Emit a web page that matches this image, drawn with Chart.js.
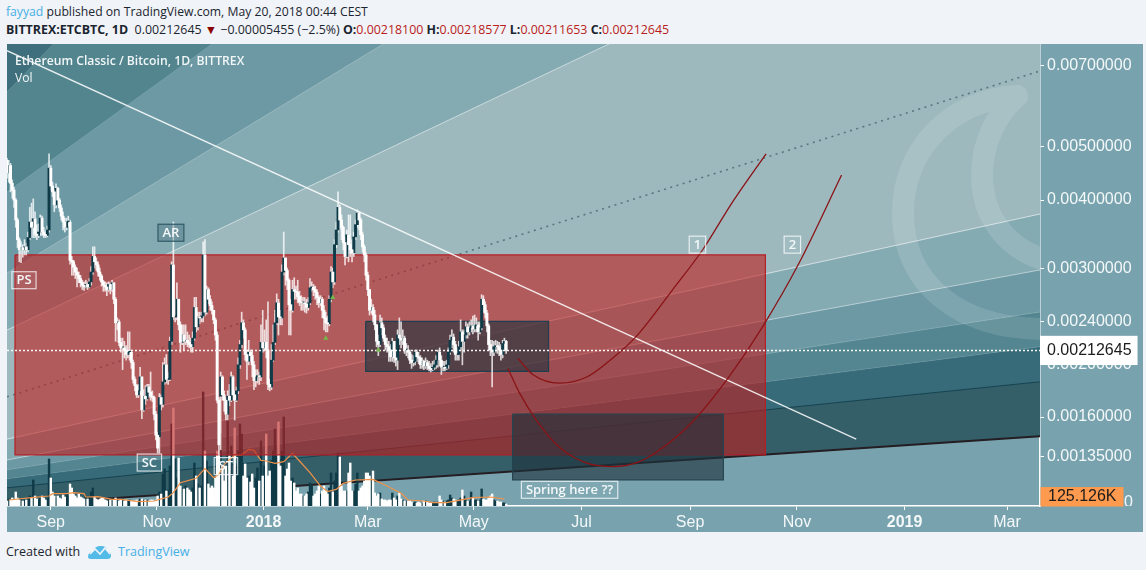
<!DOCTYPE html>
<html><head><meta charset="utf-8">
<script src="https://cdn.jsdelivr.net/npm/chart.js@4/dist/chart.umd.min.js"></script>
<style>
html,body{margin:0;padding:0;width:1146px;height:570px;overflow:hidden;background:#f0f3f7;font-family:"Open Sans",sans-serif;color:#1b2530}
#wrap{position:absolute;left:7px;top:44px;width:1136px;height:488px;background:#78a3ae}
canvas{display:block}
.t{position:absolute;white-space:pre;font-size:12.2px;line-height:18px}
b{font-weight:700}.blue{color:#45b0e6}.red{color:#b91c1c}
</style></head><body>
<div class="t" style="left:6px;top:3px"><span class="blue">fayyad</span> published on TradingView.com, May 20, 2018 00:44 CEST</div>
<div class="t" style="left:6px;top:21px;font-size:12.4px"><b>BITTREX:ETCBTC, 1D</b>  0.00212645 <span style="color:#8b0000">▼</span> −0.00005455 (−2.5%) <b>O:</b><span class="red">0.00218100</span> <b>H:</b><span class="red">0.00218577</span> <b>L:</b><span class="red">0.00211653</span> <b>C:</b><span class="red">0.00212645</span></div>
<div id="wrap"><canvas id="c" width="1136" height="488"></canvas></div>
<div class="t" style="left:15px;top:52px;color:#f1f6f7;font-weight:600">Ethereum Classic / Bitcoin, 1D, BITTREX</div>
<div class="t" style="left:15px;top:69px;color:#f1f6f7">Vol</div>
<div class="t" style="left:6px;top:543px;font-size:12.5px">Created with</div>
<svg style="position:absolute;left:87px;top:543px" width="25" height="17" viewBox="0 0 25 17"><path d="M1 14 Q1 9 6 9 Q8 2 14 3 Q20 3 20 8 Q24 9 24 13 Q24 16 20 16 L5 16 Q1 16 1 14Z" fill="#54bbe8"/><path d="M3 11 L8 6 L13 11 L18 5 L23 11" fill="none" stroke="#f0f3f7" stroke-width="1.6"/></svg>
<div class="t blue" style="left:118px;top:543px;font-size:12.5px">TradingView</div>
<script>
// all prices in the arrays below are in units of 0.00001 BTC
const priceUnit = 1e-5;
const closePrice = [
448,462,429,417,400,368,339,325,328,325,
329,325,342,365,357,370,347,345,350,371,
350,346,345,353,457,424,414,392,420,400,
387,374,365,357,365,365,311,309,302,296,
292,288,283,280,278,281,278,284,296,316,
309,305,296,291,284,280,278,275,281,275,
283,264,239,240,220,215,215,213,209,211,
211,202,188,183,176,179,190,165,175,173,
182,178,175,174,162,148,140,174,169,186,
200,188,188,221,305,245,245,264,237,220,
227,221,222,220,218,216,224,255,235,245,
244,246,318,250,275,264,257,252,242,227,
172,142,190,176,172,162,175,172,190,176,
172,179,200,218,239,232,209,203,211,208,
200,187,190,191,190,220,215,220,213,184,
182,204,220,239,260,245,244,296,314,298,
286,258,252,275,273,272,267,261,260,260,
259,255,260,277,278,275,272,266,260,264,
252,244,239,238,264,296,284,332,353,388,
368,357,335,316,346,332,325,321,343,361,
379,368,346,329,318,292,275,252,255,247,
237,221,218,239,234,224,218,216,213,207,
221,206,204,227,224,222,224,213,213,211,
204,202,203,211,207,206,200,203,199,202,
199,197,196,198,200,204,211,204,198,198,
197,200,211,222,225,218,209,209,216,230,
221,227,235,230,234,236,233,236,237,230,
234,264,258,249,236,218,213,211,216,217,
216,213,209,219,221,212.645];
const highPrice = [
476,472,466,435,422,403,371,342,336,332,
339,334,350,388,395,402,381,361,362,376,
374,357,353,359,485,462,431,417,428,422,
403,392,381,371,371,374,368,316,311,305,
301,296,292,286,284,286,284,288,303,329,
329,314,309,301,293,286,284,283,284,283,
286,283,266,244,242,224,224,221,217,230,
230,213,204,190,184,184,198,190,180,183,
184,184,194,179,175,164,150,177,176,202,
206,209,194,225,309,365,264,283,264,240,
237,237,237,230,227,224,230,266,266,250,
250,250,336,339,279,277,268,261,250,244,
230,174,194,191,179,174,179,184,194,191,
179,182,206,222,250,242,234,213,222,213,
213,203,196,196,194,237,252,232,242,261,
188,218,237,252,270,264,252,305,350,314,
301,288,264,286,289,279,286,273,268,266,
266,264,266,288,284,281,279,275,268,268,
266,257,250,246,268,303,301,339,365,414,
392,376,359,342,353,376,376,339,350,368,
384,381,371,350,332,321,296,275,264,258,
252,237,227,247,244,237,227,224,221,218,
224,221,213,232,244,240,232,226,219,217,
213,209,208,213,213,211,208,206,204,206,
204,203,201,203,204,208,213,215,208,203,
203,204,215,227,232,228,221,215,221,242,
232,232,240,238,240,242,246,247,244,240,
240,269,268,261,252,238,222,222,221,222,
221,220,218,222,224,222];
const lowPrice = [
438,431,414,403,388,357,328,309,308,315,
318,318,322,339,342,342,342,339,342,345,
345,342,342,343,350,417,406,381,387,392,
381,368,353,350,353,359,306,292,292,288,
278,283,278,275,274,277,275,277,280,293,
301,298,291,286,279,273,273,268,273,270,
273,259,221,232,217,211,196,206,204,206,
204,197,185,179,174,174,176,159,164,169,
172,174,172,171,158,145,137,137,165,167,
184,185,184,187,218,242,240,242,232,211,
218,213,218,216,215,211,211,222,230,232,
238,240,240,246,248,259,252,248,238,222,
170,134,139,172,164,158,158,168,171,172,
158,171,177,197,215,224,204,188,200,203,
190,180,182,185,184,187,211,213,206,180,
179,180,203,218,237,227,237,237,292,280,
275,227,227,250,264,264,260,257,252,252,
250,249,252,258,273,268,264,258,255,257,
244,232,230,230,236,261,277,281,328,350,
353,339,325,305,314,309,316,309,316,339,
357,353,339,322,309,286,268,247,249,240,
232,216,208,216,227,221,213,211,203,203,
203,202,199,196,218,215,218,210,208,206,
201,197,199,200,203,201,197,197,196,197,
196,195,194,195,196,197,198,199,192,195,
195,196,197,209,215,211,204,204,204,213,
200,211,224,224,227,230,228,230,230,222,
228,232,250,244,230,213,208,182,208,211,
210,208,204,206,213,210];
const openGaps = {0:472, 87:147, 122:175};
// volume in thousands
const volume = [
90,126,108,144,108,252,144,108,126,90,
108,108,144,180,144,468,180,126,108,144,
180,144,108,126,846,504,252,180,144,180,
144,126,198,162,216,180,396,324,216,180,
144,216,162,144,126,180,126,162,252,324,
162,126,108,126,144,144,108,90,126,108,
126,108,144,108,90,108,126,90,108,90,
108,90,90,90,108,90,126,126,108,108,
108,90,108,108,90,108,180,252,216,576,
666,270,288,720,1476,1764,846,504,864,360,
324,306,360,324,288,252,324,774,540,396,
324,360,2052,990,810,396,324,360,324,504,
990,900,1296,720,450,720,1656,900,1080,540,
1404,720,990,1476,1296,540,756,504,540,432,
576,324,504,684,450,1170,540,720,1296,540,
630,810,990,1386,900,1512,720,990,1602,540,
666,774,450,504,414,270,324,216,216,180,
180,216,252,414,360,180,216,270,360,216,
270,360,270,216,324,594,252,450,594,954,
882,360,270,270,270,594,774,270,270,396,
594,270,324,360,450,594,594,540,450,630,
234,180,216,234,126,108,108,90,108,108,
234,144,108,180,234,126,108,90,90,90,
90,72,54,72,54,72,54,54,90,90,
72,54,54,54,72,54,72,180,108,90,
72,90,108,198,144,126,108,90,108,144,
288,180,108,90,90,252,144,108,108,90,
108,306,126,108,108,144,180,216,108,90,
90,72,72,54,54,36];
const volMaDay = [1,14,24,26,34,38,44,45,52,60,65,75,84,87,92,95,99,108,110,113,118,121,124,130,134,138,141,145,148,153,158,163,167,173,179,183,188,192,199,209,217,225,229,238,243,251,258,266,276,284];
const volMa = [108,150,180,222,222,240,222,162,168,120,120,78,90,120,162,240,420,498,570,672,510,570,750,918,918,1020,1002,822,810,768,798,948,810,600,360,258,300,408,468,480,360,228,108,90,60,60,102,150,162,125.126];

const axisDays = [25,85.5,146.5,206,266.5,328,390,451,512.5,571];
const axisNames = ['Sep','Nov','2018','Mar','May','Jul','Sep','Nov','2019','Mar'];
const axisBold = ['2018','2019'];
const priceTicks = [0.007,0.005,0.004,0.003,0.0024,0.002,0.0016,0.00135];
const lastPrice = 0.00212645;
const lastVolMa = 125.126;

const dayMax = 589.8;
// fan boundaries (BTC) at the left and right edge of the plot
const fanAtLeft  = [0.006268,0.004136,0.002948,0.002318,0.001455,0.00133,0.001274,0.001225,0.001178,0.001092];
const fanAtRight = [0.5031,0.08893,0.03952,0.01777,0.003774,0.002986,0.002502,0.00216,0.001861,0.001474];
const fanFill = ['#3f6f7c','#53858f','#6c99a4','#85abb2','#9db9be','#85abb2','#6c99a4','#548691','#376b79','#345e68'];
const fanEdge = ['rgba(255,255,255,.08)','rgba(255,255,255,.1)','rgba(255,255,255,.25)','rgba(255,255,255,.55)','rgba(255,255,255,.6)','rgba(255,255,255,.45)','rgba(255,255,255,.15)','rgba(255,255,255,.1)','#14414e','#241d22'];
const fanWidth = [1,1,1,1,1,1,1,1,1,2];
const fanDotted = [0.001745,0.006837];
const trendDays = [0,484.9];
const trendPrice = [0.007436,0.001455];
const redBoxDays = [4.56,433]; const redBoxPrice = [0.00318,0.00136];
const rangeBoxDays = [204.8,309.2]; const rangeBoxPrice = [0.002404,0.001945];
const springBoxDays = [288.7,409]; const springBoxPrice = [0.00162,0.00122];
const curve1Days = [291.7,300.2,315.5,330.7,345.9,359.2,380.1,397.2,414.3,433.4];
const curve1Price = [205.5,192,185,189.7,206,225.5,275,325,397,485];
const curve2Days = [286,292.6,302.2,315.5,330.7,345.9,361.1,380.1,395.3,412.4,431.4,452.4,476.5];
const curve2Price = [197,177.5,158,140.5,131.3,129.2,132,145,162,190.5,235,308,444];
const markerDays = [182,186,212];
const markerPrice = [224,266,213];
const noteText = ['PS','AR','SC','ST','1','2','Spring here ??'];
const noteDay = [9.7,93.6,81.3,125,394.2,448.4,321.2];
const notePrice = [286,349,131.5,129.5,332,332,116.8];
const noteDark = [false,true,false,false,false,false,false];

const C = 8e-5; // TradingView's log axis is slightly offset
class TVLog extends Chart.LogarithmicScale {
  static id = 'tvlog';
  static defaults = {};
  configure(){ super.configure(); const a=Math.log10(this.min+C); this._startValue=a; this._valueRange=Math.log10(this.max+C)-a; }
  getPixelForValue(v){ if(v===undefined||v===0) v=this.min; if(v===null||isNaN(v)) return NaN; return this.getPixelForDecimal((Math.log10(v+C)-this._startValue)/this._valueRange); }
  getValueForPixel(p){ return Math.pow(10,this._startValue+this.getDecimalForPixel(p)*this._valueRange)-C; }
}
Chart.register(TVLog);

const open = closePrice.map((c,i)=> openGaps[i]!==undefined ? openGaps[i] : closePrice[i-1]);
const isUp = closePrice.map((c,i)=> c>=open[i]);
const P = v => v*priceUnit;
const box = (d,p)=>[{x:d[0],y:p[0]},{x:d[1],y:p[0]},{x:d[1],y:p[1]},{x:d[0],y:p[1]},{x:d[0],y:p[0]}];
const line = (data,o)=>Object.assign({type:'line',data,pointRadius:0,borderWidth:1,tension:0,fill:false},o);

const datasets = [];
fanAtLeft.forEach((l,i)=>datasets.push(line([{x:0,y:l},{x:dayMax,y:fanAtRight[i]}],{
  order:90,fill:i===0?'end':'-1',backgroundColor:fanFill[i],borderColor:fanEdge[i],borderWidth:fanWidth[i]})));
datasets.push(line([{x:0,y:fanDotted[0]},{x:dayMax,y:fanDotted[1]}],{order:85,borderColor:'rgba(72,102,112,.8)',borderWidth:1.6,borderDash:[2,4.5]}));
const barBase = {type:'bar',grouped:false,borderWidth:0,minBarLength:1};
datasets.push(Object.assign({},barBase,{order:80,yAxisID:'v',barThickness:1.75,backgroundColor:'#0f3a47',
  data:volume.map((v,i)=>isUp[i]?{x:i,y:v}:null).filter(Boolean)}));
datasets.push(Object.assign({},barBase,{order:79,yAxisID:'v',barThickness:1.75,backgroundColor:'#ffffff',
  data:volume.map((v,i)=>!isUp[i]?{x:i,y:v}:null).filter(Boolean)}));
datasets.push(line(volMaDay.map((d,i)=>({x:d,y:volMa[i]})),{order:78,yAxisID:'v',borderColor:'#f0924a',borderWidth:1.2}));
datasets.push(line(box(redBoxDays,redBoxPrice),{order:70,fill:'shape',backgroundColor:'rgba(192,28,28,.6)',borderColor:'#b31f24',borderWidth:1.2}));
datasets.push(line(box(rangeBoxDays,rangeBoxPrice),{order:65,fill:'shape',backgroundColor:'rgba(30,50,60,.62)',borderColor:'#1f3f4e',borderWidth:1.2}));
datasets.push(line(box(springBoxDays,springBoxPrice),{order:65,fill:'shape',backgroundColor:'rgba(30,50,60,.62)',borderColor:'#24434f',borderWidth:1.2}));
datasets.push(Object.assign({},barBase,{order:60,barThickness:1,backgroundColor:'rgba(255,255,255,.78)',
  data:closePrice.map((c,i)=>({x:i,y:[P(lowPrice[i]),P(highPrice[i])]}))}));
datasets.push(Object.assign({},barBase,{order:55,barThickness:2.3,backgroundColor:'#0f3a47',
  data:closePrice.map((c,i)=>isUp[i]?{x:i,y:[P(open[i]),P(c)]}:null).filter(Boolean)}));
datasets.push(Object.assign({},barBase,{order:54,barThickness:2.3,backgroundColor:'#ffffff',
  data:closePrice.map((c,i)=>!isUp[i]?{x:i,y:[P(c),P(open[i])]}:null).filter(Boolean)}));
datasets.push(line(trendDays.map((d,i)=>({x:d,y:trendPrice[i]})),{order:50,borderColor:'rgba(255,255,255,.85)',borderWidth:1.4}));
datasets.push(line(curve1Days.map((d,i)=>({x:d,y:P(curve1Price[i])})),{order:45,borderColor:'#8a1316',borderWidth:1.3,cubicInterpolationMode:'monotone'}));
datasets.push(line(curve2Days.map((d,i)=>({x:d,y:P(curve2Price[i])})),{order:45,borderColor:'#8a1316',borderWidth:1.3,cubicInterpolationMode:'monotone'}));
datasets.push(line([{x:0,y:lastPrice},{x:dayMax,y:lastPrice}],{order:40,borderColor:'rgba(255,255,255,.95)',borderWidth:1.5,borderDash:[2,2]}));
datasets.push({type:'scatter',order:38,data:markerDays.map((d,i)=>({x:d,y:P(markerPrice[i])})),pointStyle:'triangle',pointRadius:3,backgroundColor:'#74b84a',borderWidth:0});

const overlays = {
  id:'overlays',
  afterDatasetsDraw(ch){
    const g=ch.ctx, a=ch.chartArea, X=ch.scales.x, Y=ch.scales.y;
    // moon watermark
    g.save(); g.beginPath(); g.rect(a.left,a.top,a.right-a.left,a.bottom-a.top); g.clip();
    const ox=-7, oy=-44;
    g.strokeStyle='rgba(255,255,255,.12)'; g.lineWidth=22; g.lineCap='round'; g.lineJoin='round';
    g.beginPath();
    g.moveTo(1045+ox,260+oy);
    g.bezierCurveTo(1005+ox,248+oy,982+ox,215+oy,982+ox,175+oy);
    g.bezierCurveTo(982+ox,145+oy,995+ox,115+oy,1017+ox,96+oy);
    g.bezierCurveTo(950+ox,100+oy,903+ox,150+oy,903+ox,213+oy);
    g.bezierCurveTo(903+ox,285+oy,960+ox,329+oy,1045+ox,329+oy);
    g.stroke(); g.restore();
    // text notes
    g.save(); g.textAlign='center'; g.textBaseline='middle'; g.font='600 13px "Open Sans"';
    noteText.forEach((t,i)=>{
      const x=X.getPixelForValue(noteDay[i]), y=Y.getPixelForValue(P(notePrice[i]));
      const w=g.measureText(t).width+9, h=17;
      g.fillStyle=noteDark[i]?'rgba(70,110,122,.35)':'rgba(255,255,255,.06)';
      g.fillRect(x-w/2,y-h/2,w,h);
      g.strokeStyle=noteDark[i]?'#2f5a66':'rgba(255,255,255,.75)'; g.lineWidth=1.2;
      g.strokeRect(x-w/2,y-h/2,w,h);
      g.fillStyle='#f4f8f9'; g.fillText(t,x,y+.5);
    });
    g.restore();
  },
  afterDraw(ch){
    const g=ch.ctx, a=ch.chartArea, V=ch.scales.v;
    const y=V.getPixelForValue(lastVolMa);
    g.save();
    g.fillStyle='#ff9a4f'; g.fillRect(a.right+.5,y-12,83,19.5);
    g.fillStyle='#1c1c1c'; g.font='16px "Liberation Sans"'; g.textBaseline='middle'; g.textAlign='left';
    g.fillText('125.126K',a.right+8,y-2);
    g.beginPath(); g.rect(a.right+83,a.bottom-12,30,12); g.clip();
    g.fillStyle='#f4f8f9'; g.fillText('0',a.right+84,a.bottom-3);
    g.restore();
  }
};

new Chart(document.getElementById('c'),{
  data:{datasets},
  plugins:[overlays],
  options:{
    responsive:false,animation:false,events:[],
    layout:{padding:0,autoPadding:false},
    plugins:{legend:{display:false},tooltip:{enabled:false}},
    scales:{
      x:{type:'linear',min:0,max:dayMax,position:'bottom',offset:false,
        afterBuildTicks(s){s.ticks=axisDays.map(v=>({value:v}));},
        afterFit(s){s.height=26;s.paddingLeft=0;s.paddingRight=0;},
        grid:{offset:false,drawOnChartArea:false,drawTicks:true,tickLength:4,color:'#ffffff'},
        border:{display:true,color:'#ffffff',width:1.5},
        ticks:{autoSkip:false,maxRotation:0,minRotation:0,padding:3,color:'#f4f8f9',
          callback:v=>axisNames[axisDays.indexOf(v)],
          font:c=>{const n=c.tick?axisNames[axisDays.indexOf(c.tick.value)]:'';return {family:'"Liberation Sans"',size:16,weight:axisBold.includes(n)?'bold':'normal'};}}
      },
      y:{type:'tvlog',position:'right',min:0.001088,max:0.007643,
        afterBuildTicks(s){s.ticks=priceTicks.concat([lastPrice]).map(v=>({value:v}));},
        afterFit(s){s.width=103;s.paddingTop=0;s.paddingBottom=0;},
        grid:{drawOnChartArea:false,drawTicks:true,tickLength:4,color:'#ffffff'},
        border:{display:true,color:'#ffffff',width:1.5},
        ticks:{autoSkip:false,padding:3,
          callback:v=>Number(v).toFixed(8),
          color:c=>c.tick&&c.tick.value===lastPrice?'#1c1c1c':'#f4f8f9',
          showLabelBackdrop:c=>!!(c.tick&&c.tick.value===lastPrice),
          backdropColor:'#ffffff',
          backdropPadding:{top:5,bottom:5,left:8,right:6},
          font:{family:'"Liberation Sans"',size:16}}
      },
      v:{type:'linear',display:false,min:0,max:8316}
    }
  }
});
</script>
</body></html>
